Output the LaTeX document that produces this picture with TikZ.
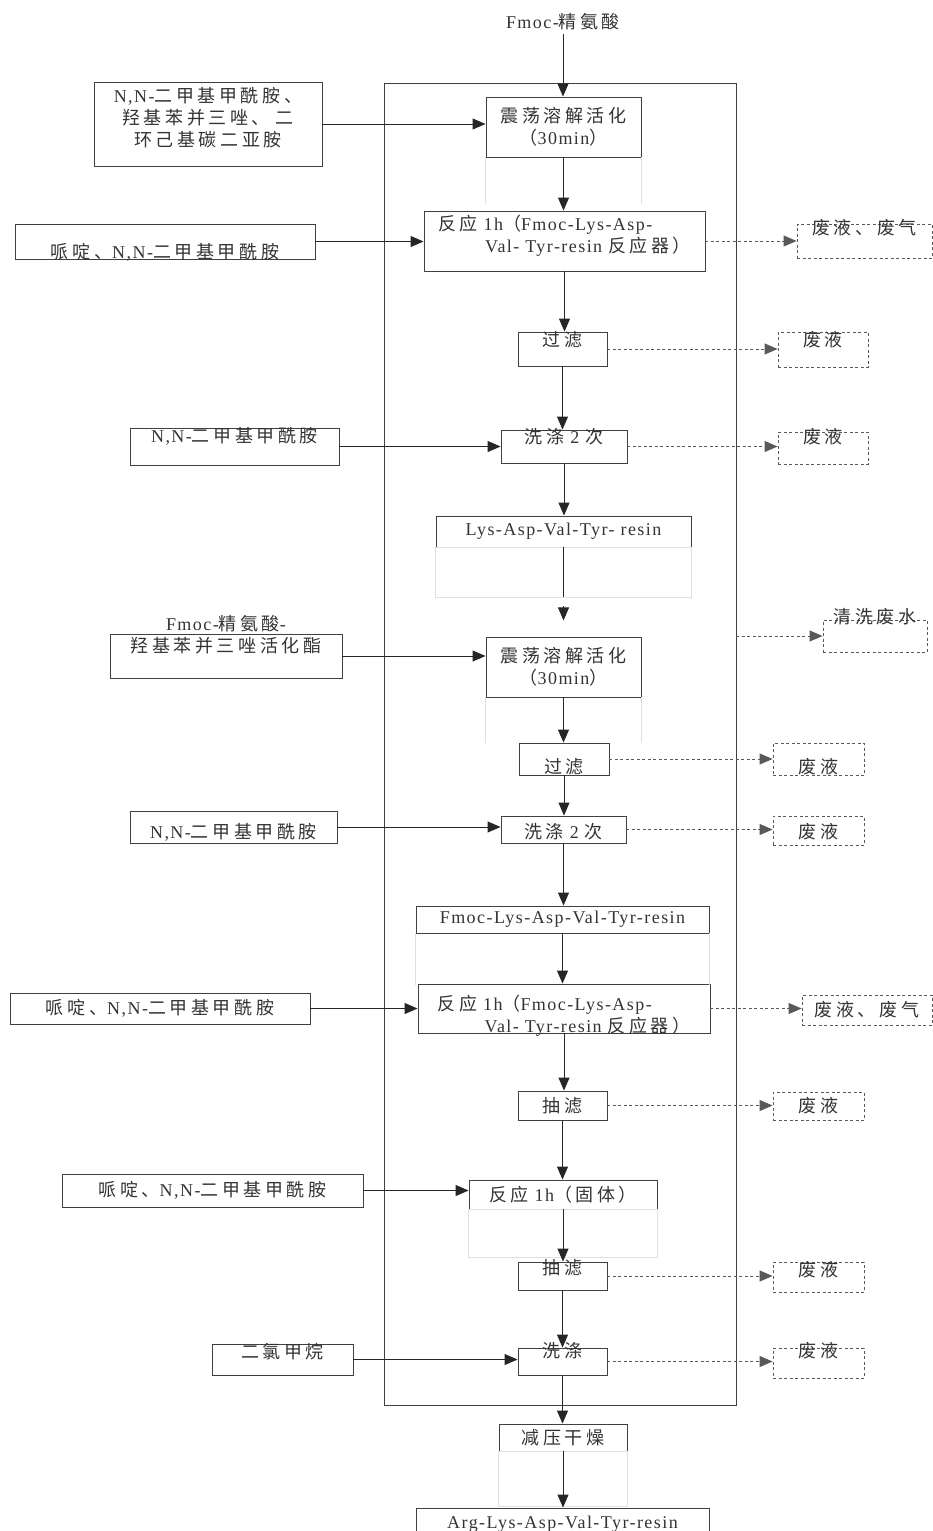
\documentclass[tikz,border=0pt]{standalone}
\usepackage{fontspec}
\setmainfont[LetterSpace=8]{Liberation Serif}
\newfontfamily\cjk[LetterSpace=20]{Noto Sans CJK SC}
% Chinese characters switch to the CJK face by themselves
\XeTeXinterchartokenstate=1
\newXeTeXintercharclass\zhclass
\newcount\zhcode
\zhcode="2E80
\loop\ifnum\zhcode<"A000 \XeTeXcharclass\zhcode=\zhclass \advance\zhcode by 1 \repeat
\zhcode="FF00
\loop\ifnum\zhcode<"FFF0 \XeTeXcharclass\zhcode=\zhclass \advance\zhcode by 1 \repeat
\XeTeXinterchartoks 0 \zhclass = {\cjk}
\XeTeXinterchartoks 4095 \zhclass = {\cjk}
\XeTeXinterchartoks \zhclass 0 = {\rmfamily}
\XeTeXinterchartoks \zhclass 4095 = {\rmfamily}
\usepackage{tikz}
\usetikzlibrary{arrows.meta}
\usetikzlibrary{calc}

\begin{document}
\begin{tikzpicture}[x=1pt, y=-1pt, font=\fontsize{18}{22}\selectfont, text=black!80,
    box/.style={draw=black!75, line width=0.9pt, inner xsep=2pt, inner ysep=0pt},
    waste/.style={box, draw=black!65, dash pattern=on 3pt off 2.5pt},
    flow/.style={draw=black!85, line width=0.9pt, -{Triangle[length=13pt, width=11pt]}},
    leak/.style={flow, draw=black!65, dash pattern=on 3pt off 2.5pt},
    ghost/.style={draw=black!12, line width=0.8pt},
    tup/.style={text height=0pt, text depth=#1},
    tdown/.style={text height=#1, text depth=0pt}]
        \useasboundingbox (0,0) rectangle (933,1531);
        \clip (0,0) rectangle (933,1531);

        % Reactor frame
        \node[box, minimum width=352pt, minimum height=1322pt] (reactor) at (560,744) {};

        % Main line
        \node (arg) at (563,22) {Fmoc-精氨酸};
        \node[box, minimum width=155pt, minimum height=60pt, align=center] (act1) at (563.5,127) {震荡溶解活化\\（30min）};
        \node[box, minimum width=281pt, minimum height=60pt, align=left, tdown=22pt] (rx1) at (564.5,241) {反应 1h（Fmoc-Lys-Asp-\\\hspace*{47pt}Val- Tyr-resin 反应器）};
        \node[box, minimum width=89pt, minimum height=34pt, tup=4.4pt] (f1) at (562.5,349) {过滤};
        \node[box, minimum width=126pt, minimum height=33pt, tup=5.4pt] (wash1) at (564,446.5) {洗涤 2 次};
        \node[box, minimum width=255pt, minimum height=31pt] (pep1) at (563.5,531.5) {Lys-Asp-Val-Tyr- resin};
        \node[box, minimum width=155pt, minimum height=60pt, align=center] (act2) at (563.5,667) {震荡溶解活化\\（30min）};
        \node[box, minimum width=90pt, minimum height=32pt, tdown=29.6pt] (f2) at (564,759) {过滤};
        \node[box, minimum width=125pt, minimum height=27pt, tdown=18.6pt] (wash2) at (563.5,829.5) {洗涤 2 次};
        \node[box, minimum width=293pt, minimum height=27pt] (pep2) at (562.5,919.5) {Fmoc-Lys-Asp-Val-Tyr-resin};
        \node[box, minimum width=292pt, minimum height=49pt, align=left, tdown=48pt] (rx2) at (564,1008.5) {反应 1h（Fmoc-Lys-Asp-\\\hspace*{47pt}Val- Tyr-resin 反应器）};
        \node[box, minimum width=89pt, minimum height=29pt] (sf1) at (562.5,1105.5) {抽滤};
        \node[box, minimum width=188pt, minimum height=29pt] (rx3) at (563,1194.5) {反应 1h（固体）};
        \node[box, minimum width=89pt, minimum height=28pt, tup=2.4pt] (sf2) at (562.5,1276) {抽滤};
        \node[box, minimum width=89pt, minimum height=27pt, tup=7.4pt] (wash3) at (562.5,1361.5) {洗涤};
        \node[box, minimum width=128pt, minimum height=27pt] (dry) at (563,1437.5) {减压干燥};
        \node[box, minimum width=293pt, minimum height=37pt, tdown=3pt] (prod) at (562.5,1526.5) {Arg-Lys-Asp-Val-Tyr-resin};

        % Feeds on the left
        \node[box, minimum width=228pt, minimum height=84pt, align=center, tdown=44pt] (in1) at (208,124) {N,N-二甲基甲酰胺、\\羟基苯并三唑、 二\\环己基碳二亚胺};
        \node[box, minimum width=300pt, minimum height=35pt, tdown=34pt] (in2) at (165,241.5) {哌啶、N,N-二甲基甲酰胺};
        \node[box, minimum width=209pt, minimum height=37pt, tup=7.4pt] (in3) at (234.5,446.5) {N,N-二甲基甲酰胺};
        \node[box, minimum width=232pt, minimum height=44pt, align=center, tup=8pt] (in4) at (226,656) {Fmoc-精氨酸-\\羟基苯并三唑活化酯};
        \node[box, minimum width=207pt, minimum height=32pt, tdown=23.6pt] (in5) at (233.5,827) {N,N-二甲基甲酰胺};
        \node[box, minimum width=300pt, minimum height=31pt] (in6) at (160,1008.5) {哌啶、N,N-二甲基甲酰胺};
        \node[box, minimum width=301pt, minimum height=33pt] (in7) at (212.5,1190.5) {哌啶、N,N-二甲基甲酰胺};
        \node[box, minimum width=141pt, minimum height=31pt, tup=1.4pt] (in8) at (282.5,1359.5) {二氯甲烷};

        % Wastes on the right
        \node[waste, minimum width=135pt, minimum height=34pt, tup=12.4pt] (w1) at (864.5,241) {废液、废气};
        \node[waste, minimum width=90pt, minimum height=35pt, tup=5.4pt] (w2) at (823,349.5) {废液};
        \node[waste, minimum width=90pt, minimum height=32pt, tup=8.4pt] (w3) at (823,448) {废液};
        \node[waste, minimum width=104pt, minimum height=32pt, tup=24.4pt] (rinse) at (875,636) {清洗废水};
        \node[waste, minimum width=91pt, minimum height=32pt, tdown=29.6pt] (w4) at (818.5,759) {废液};
        \node[waste, minimum width=91pt, minimum height=29pt, tdown=16.6pt] (w5) at (818.5,830.5) {废液};
        \node[waste, minimum width=130pt, minimum height=30pt] (w6) at (867,1010) {废液、废气};
        \node[waste, minimum width=91pt, minimum height=28pt] (w7) at (818.5,1106) {废液};
        \node[waste, minimum width=91pt, minimum height=30pt, tup=0.4pt] (w8) at (818.5,1277) {废液};
        \node[waste, minimum width=91pt, minimum height=30pt, tup=10.4pt] (w9) at (818.5,1363) {废液};

        % Faint frames left under some boxes
        \draw[ghost] (act1.south west) -- ++(0,47) (act1.south east) -- ++(0,47);
        \draw[ghost] (pep1.south west) rectangle ($(pep1.south east)+(0,50)$);
        \draw[ghost] (act2.south west) -- ++(0,46) (act2.south east) -- ++(0,46);
        \draw[ghost] (pep2.south west) -- ++(0,52) (pep2.south east) -- ++(0,52);
        \draw[ghost] (rx3.south west) rectangle ($(rx3.south east)+(0,48)$);
        \draw[ghost] (dry.south west) rectangle ($(dry.south east)+(0,55)$);

        % Downward flow
        \foreach \a/\b in {arg/act1, act1/rx1, rx1/f1, f1/wash1, wash1/pep1, act2/f2, f2/wash2, wash2/pep2,
                           pep2/rx2, rx2/sf1, sf1/rx3, rx3/sf2, sf2/wash3, wash3/dry, dry/prod}
          \draw[flow] (\a) -- (\a |- \b.north);

        \coordinate (gapA) at ($(pep1.south)+(0,50)$);
        \coordinate (gapB) at ($(pep1.south)+(0,59)$);
        \coordinate (gapC) at ($(pep1.south)+(0,73)$);
        \draw[flow, -] (pep1) -- (gapA);
        \draw[flow] (gapB) -- (gapC);

        % Feeds into the line
        \foreach \a/\b in {in1/act1, in2/rx1, in3/wash1, in4/act2, in5/wash2, in6/rx2, in7/rx3, in8/wash3}
          \draw[flow] (\a.east) -- (\a.east -| \b.west);

        % Wastes out of the line
        \foreach \a/\b in {rx1/w1, f1/w2, wash1/w3, f2/w4, wash2/w5, rx2/w6, sf1/w7, sf2/w8, wash3/w9}
          \draw[leak] (\a.east) -- (\a.east -| \b.west);
        \draw[leak] (reactor.east |- rinse) -- (rinse);
\end{tikzpicture}
\end{document}
